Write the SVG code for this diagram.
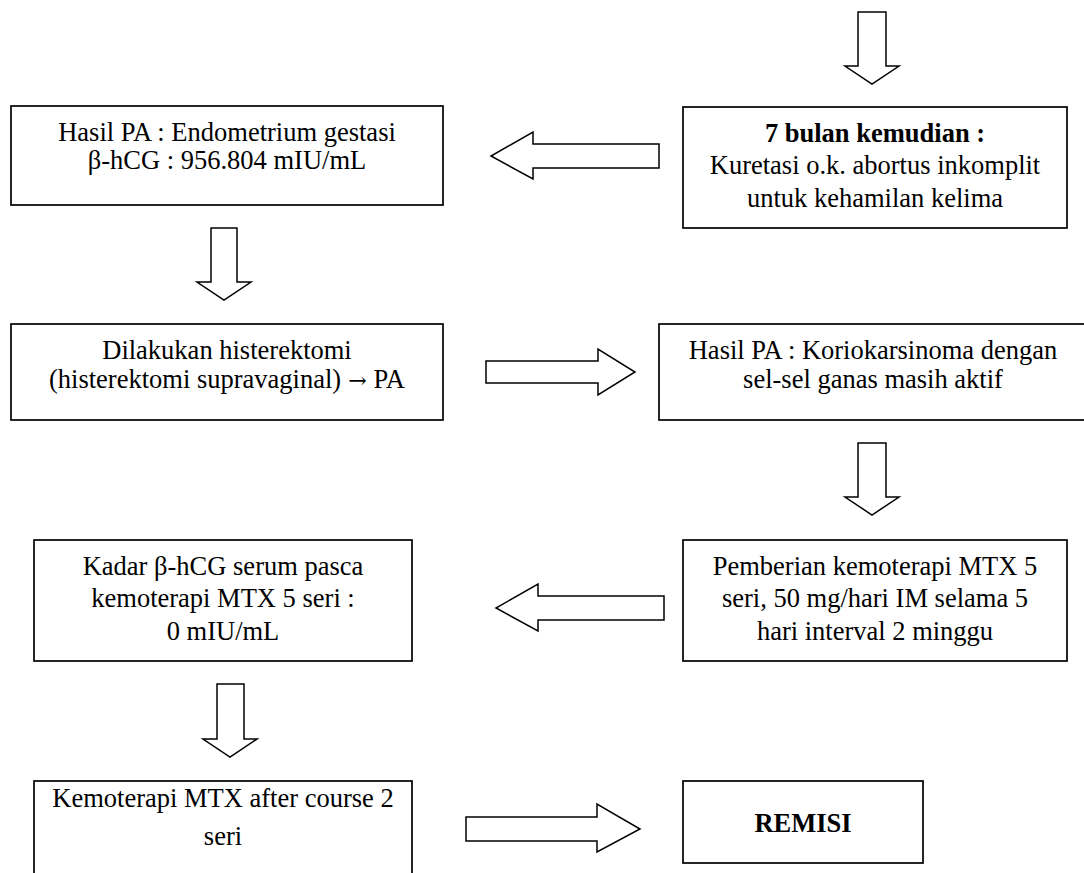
<svg xmlns="http://www.w3.org/2000/svg" width="1084" height="873" viewBox="0 0 1084 873">
<style>
.box{fill:#fff;stroke:#000;stroke-width:1.7}
.arr{fill:#fff;stroke:#000;stroke-width:1.5;stroke-linejoin:miter}
text{font-family:"Liberation Serif","Times New Roman",serif;font-size:26.5px;fill:#000;text-anchor:middle;white-space:pre}
.b{font-weight:bold}
.sym{font-family:"DejaVu Serif","DejaVu Sans",serif;font-size:22px}
</style>
<rect width="1084" height="873" fill="#fff"/>
<g id="connectors">
<polygon class="arr" points="858,12 886,12 886,66 899,66 872,84 845,66 858,66"/>
<polygon class="arr" points="659,144 533,144 533,132 491,156 533,179 533,168 659,168"/>
<polygon class="arr" points="211,228 237,228 237,282 251,282 224,300 197,282 211,282"/>
<polygon class="arr" points="486,361 598,361 598,349 635,372 598,395 598,383 486,383"/>
<polygon class="arr" points="858,443 886,443 886,497 899,497 872,515 845,497 858,497"/>
<polygon class="arr" points="664,596 538,596 538,584 496,608 538,631 538,620 664,620"/>
<polygon class="arr" points="217,684 244,684 244,739 257,739 230,757 203,739 217,739"/>
<polygon class="arr" points="466,817 597,817 597,804 640,829 597,852 597,841 466,841"/>
</g>
<g id="n1">
<rect class="box" x="683" y="107" width="384" height="121"/>
<text x="875" y="142" class="b">7 bulan kemudian :</text>
<text x="875" y="174">Kuretasi o.k. abortus inkomplit</text>
<text x="875" y="207">untuk kehamilan kelima</text>
</g>
<g id="n2">
<rect class="box" x="11" y="106" width="432" height="99"/>
<text x="227" y="141">Hasil PA : Endometrium gestasi</text>
<text x="227" y="169">β-hCG : 956.804 mIU/mL</text>
</g>
<g id="n3">
<rect class="box" x="11" y="324" width="432" height="96"/>
<text x="227" y="359">Dilakukan histerektomi</text>
<text x="227" y="388">(histerektomi supravaginal)<tspan class="sym"> → </tspan>PA</text>
</g>
<g id="n4">
<rect class="box" x="659" y="324" width="440" height="96"/>
<text x="873" y="359">Hasil PA : Koriokarsinoma dengan</text>
<text x="873" y="388">sel-sel ganas masih aktif</text>
</g>
<g id="n5">
<rect class="box" x="683" y="540" width="384" height="121"/>
<text x="875" y="575">Pemberian kemoterapi MTX 5</text>
<text x="875" y="607">seri, 50 mg/hari IM selama 5</text>
<text x="875" y="640">hari interval 2 minggu</text>
</g>
<g id="n6">
<rect class="box" x="34" y="540" width="378" height="121"/>
<text x="223" y="575">Kadar β-hCG serum pasca</text>
<text x="223" y="607">kemoterapi MTX 5 seri :</text>
<text x="223" y="640">0 mIU/mL</text>
</g>
<g id="n7">
<rect class="box" x="34" y="781" width="378" height="110"/>
<text x="223" y="807">Kemoterapi MTX after course 2</text>
<text x="223" y="845">seri</text>
</g>
<g id="n8">
<rect class="box" x="683" y="781" width="240" height="82"/>
<text x="803" y="832" class="b">REMISI</text>
</g>
</svg>
